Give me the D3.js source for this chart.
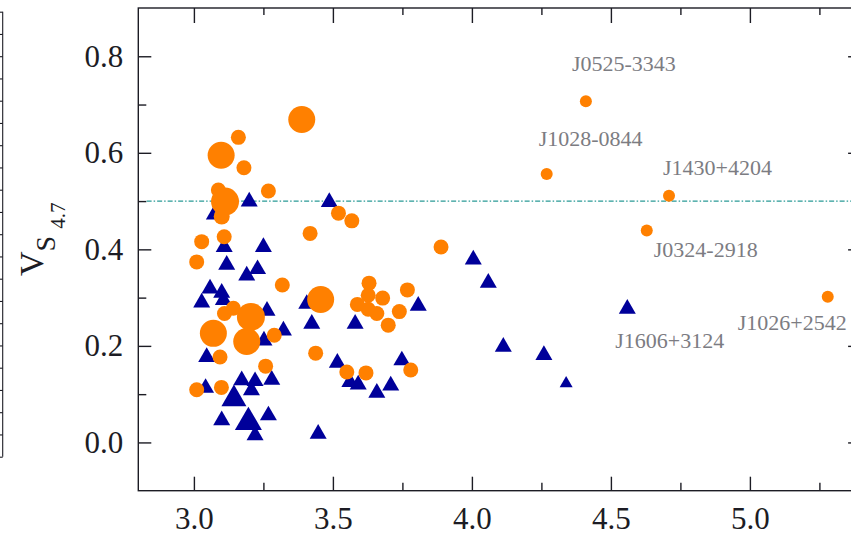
<!DOCTYPE html>
<html>
<head>
<meta charset="utf-8">
<script src="https://cdn.jsdelivr.net/npm/d3@7"></script>
<style>
  html, body { margin: 0; padding: 0; background: #fff; }
  svg { display: block; }
  svg text { font-family: "Liberation Serif", "DejaVu Serif", "Noto Serif", serif; }
</style>
</head>
<body>
<svg id="chart" width="851" height="541"></svg>
<script>
// Orange circles: x, V_S4.7, marker radius
const circleX = [3.388, 3.160, 3.098, 3.180, 3.268, 3.088, 3.112, 3.100, 3.418, 3.520,
                 3.568, 3.109, 3.028, 3.010, 3.318, 3.889, 3.456, 3.205, 3.190, 3.070,
                 3.110, 3.142, 3.289, 3.094, 3.258, 3.010, 3.099, 3.438, 3.630, 3.627,
                 3.588, 3.679, 3.768, 3.627, 3.658, 3.739, 3.699, 3.550, 3.619, 3.780,
                 4.410, 4.269, 4.709, 4.629, 5.280];
const circleY = [0.669, 0.632, 0.595, 0.569, 0.521, 0.523, 0.499, 0.468, 0.433, 0.475,
                 0.459, 0.426, 0.416, 0.374, 0.326, 0.405, 0.296, 0.260, 0.209, 0.226,
                 0.267, 0.278, 0.222, 0.177, 0.158, 0.109, 0.114, 0.185, 0.330, 0.305,
                 0.286, 0.299, 0.316, 0.276, 0.267, 0.271, 0.243, 0.146, 0.144, 0.150,
                 0.707, 0.556, 0.511, 0.439, 0.302];
const circleR = [13.5, 7.5, 13.5, 7.5, 7.5, 7.5, 14, 8, 7.5, 7.5,
                 7.5, 7.5, 7.5, 7.5, 7.5, 7.5, 13.5, 14, 13.5, 13.5,
                 7.5, 7.5, 7.5, 7.5, 7.5, 7.5, 7.5, 7.5, 7.5, 7.5,
                 7.5, 7.5, 7.5, 7.5, 7.5, 7.5, 7.5, 7.5, 7.5, 7.5,
                 6, 6, 6, 6, 6];
const circleName = ["", "", "", "", "", "", "", "", "", "",
                    "", "", "", "", "", "", "", "", "", "",
                    "", "", "", "", "", "", "", "", "", "",
                    "", "", "", "", "", "", "", "", "", "",
                    "J0525-3343", "J1028-0844", "J1430+4204", "J0324-2918", "J1026+2542"];

// Blue triangles: x, V_S4.7, side length of the marker
const triX = [3.199, 3.070, 3.109, 3.250, 3.118, 3.229, 3.190, 3.058, 3.100, 3.028,
              3.106, 3.263, 3.322, 3.252, 3.046, 3.220, 3.172, 3.280, 3.042, 3.144,
              3.207, 3.268, 3.100, 3.196, 3.220, 3.447, 3.487, 4.005, 4.059, 3.807,
              3.406, 3.424, 3.580, 3.516, 3.561, 3.591, 3.658, 3.708, 3.748, 4.113,
              4.259, 4.339, 4.559];
const triY = [0.503, 0.475, 0.409, 0.409, 0.372, 0.363, 0.350, 0.323, 0.314, 0.294,
              0.299, 0.277, 0.236, 0.215, 0.181, 0.131, 0.133, 0.134, 0.117, 0.094,
              0.112, 0.060, 0.050, 0.046, 0.019, 0.022, 0.502, 0.383, 0.335, 0.287,
              0.291, 0.250, 0.250, 0.169, 0.129, 0.124, 0.107, 0.122, 0.174, 0.202,
              0.185, 0.126, 0.281];
const triS = [17, 15, 17, 17, 17, 17, 17, 17, 17, 17,
              17, 17, 17, 17, 17, 17, 17, 17, 17, 25,
              17, 17, 17, 27, 17, 17, 17, 17, 17, 17,
              17, 17, 17, 17, 17, 17, 17, 17, 17, 17,
              17, 13, 17];
const triName = ["", "", "", "", "", "", "", "", "", "",
                 "", "", "", "", "", "", "", "", "", "",
                 "", "", "", "", "", "", "", "", "", "",
                 "", "", "", "", "", "", "", "", "", "",
                 "", "", "J1606+3124"];

const xTicks = [3.0, 3.5, 4.0, 4.5, 5.0];
const xMinor = [3.25, 3.75, 4.25, 4.75, 5.25];
const yTicks = [0.0, 0.2, 0.4, 0.6, 0.8];
const yMinor = [0.1, 0.3, 0.5, 0.7];
const threshold = 0.5;

const svg = d3.select("#chart");

const box = { l: 138.3, t: 8, r: 861.1, b: 490.7 };
const x = d3.scaleLinear().domain([2.8, 5.4]).range([box.l, box.r]);
const y = d3.scaleLinear().domain([-0.1, 0.9]).range([box.b, box.t]);

const ink = "#1c1c24";
const serif = "'Liberation Serif', 'DejaVu Serif', 'Noto Serif', serif";
const fmt = d3.format(".1f");

// Edge of the neighbouring panel on the far left
const sideScale = d3.scaleLinear().domain([0, 20]).range([456.7, 11.7]);
const side = svg.append("g").attr("transform", "translate(2.7,0)")
  .call(d3.axisLeft(sideScale).ticks(20).tickSize(3).tickFormat(""));
side.selectAll("path,line").attr("stroke", ink).attr("stroke-width", 1.1);
side.select(".domain").attr("d", "M0,11.7V456.7");

function styleAxis(g, withText) {
  g.attr("font-family", serif);
  g.select(".domain").remove();
  g.selectAll("line").attr("stroke", ink).attr("stroke-width", 1.4);
  if (withText) g.selectAll("text").attr("fill", ink).attr("font-size", 31)
    .style("font-family", serif);
}

// Left axis
svg.append("g").attr("transform", `translate(${box.l},0)`)
  .call(d3.axisLeft(y).tickValues(yTicks).tickSize(-13).tickPadding(15).tickFormat(fmt))
  .call(g => styleAxis(g, true));
svg.append("g").attr("transform", `translate(${box.l},0)`)
  .call(d3.axisLeft(y).tickValues(yMinor).tickSize(-8).tickFormat(""))
  .call(g => styleAxis(g, false));

// Right axis
svg.append("g").attr("transform", `translate(${box.r},0)`)
  .call(d3.axisRight(y).tickValues(yTicks).tickSize(-13).tickFormat(""))
  .call(g => styleAxis(g, false));
svg.append("g").attr("transform", `translate(${box.r},0)`)
  .call(d3.axisRight(y).tickValues(yMinor).tickSize(-8).tickFormat(""))
  .call(g => styleAxis(g, false));

// Bottom axis
svg.append("g").attr("transform", `translate(0,${box.b})`)
  .call(d3.axisBottom(x).tickValues(xTicks).tickSize(-14).tickPadding(16).tickFormat(fmt))
  .call(g => styleAxis(g, true));
svg.append("g").attr("transform", `translate(0,${box.b})`)
  .call(d3.axisBottom(x).tickValues(xMinor).tickSize(-8).tickFormat(""))
  .call(g => styleAxis(g, false));

// Top axis
svg.append("g").attr("transform", `translate(0,${box.t})`)
  .call(d3.axisTop(x).tickValues(xTicks).tickSize(-15).tickFormat(""))
  .call(g => styleAxis(g, false));
svg.append("g").attr("transform", `translate(0,${box.t})`)
  .call(d3.axisTop(x).tickValues(xMinor).tickSize(-7).tickFormat(""))
  .call(g => styleAxis(g, false));

// Frame
svg.append("rect")
  .attr("x", box.l).attr("y", box.t)
  .attr("width", box.r - box.l).attr("height", box.b - box.t)
  .attr("fill", "none").attr("stroke", ink).attr("stroke-width", 1.4);

// Threshold line
svg.append("line")
  .attr("x1", x(2.83)).attr("x2", box.r)
  .attr("y1", y(threshold)).attr("y2", y(threshold))
  .attr("stroke", "#2a9a96").attr("stroke-width", 1.3)
  .attr("stroke-dasharray", "5,2,1.5,2");

// Y-axis title
const yt = svg.append("text")
  .attr("transform", "translate(43,276) rotate(-90)")
  .style("font-family", serif)
  .attr("fill", ink);
yt.append("tspan").attr("font-size", 34).text("V");
yt.append("tspan").attr("font-size", 28).attr("dy", 12).text("S");
yt.append("tspan").attr("font-size", 21).attr("dx", 7).attr("dy", 10).text("4.7");

// Markers
const triangles = triX.map((v, i) => ({ x: v, y: triY[i], s: triS[i], name: triName[i] }));
const circles = circleX.map((v, i) => ({ x: v, y: circleY[i], r: circleR[i], name: circleName[i] }));

const plot = svg.append("g");
plot.selectAll("path.tri").data(triangles).join("path")
  .attr("class", "tri")
  .attr("d", d => d3.symbol(d3.symbolTriangle, d.s * d.s * Math.sqrt(3) / 4)())
  .attr("transform", d => `translate(${x(d.x)},${y(d.y) + 2})`)
  .attr("fill", "#00009a");

plot.selectAll("circle").data(circles).join("circle")
  .attr("cx", d => x(d.x)).attr("cy", d => y(d.y)).attr("r", d => d.r)
  .attr("fill", "#ff8000");

// Source labels, offsets in pixels from their marker
const labelOffset = {
  "J0525-3343": [-14, -30],
  "J1028-0844": [-8, -28],
  "J1430+4204": [-6, -21],
  "J0324-2918": [7, 26],
  "J1606+3124": [-12, 41],
  "J1026+2542": [-90, 33]
};
const named = circles.concat(triangles).filter(d => d.name);
svg.selectAll("text.lbl").data(named).join("text")
  .attr("class", "lbl")
  .attr("x", d => x(d.x) + labelOffset[d.name][0])
  .attr("y", d => y(d.y) + labelOffset[d.name][1])
  .attr("font-size", 22)
  .style("font-family", serif)
  .attr("fill", "#7c7c82")
  .text(d => d.name);
</script>
</body>
</html>
